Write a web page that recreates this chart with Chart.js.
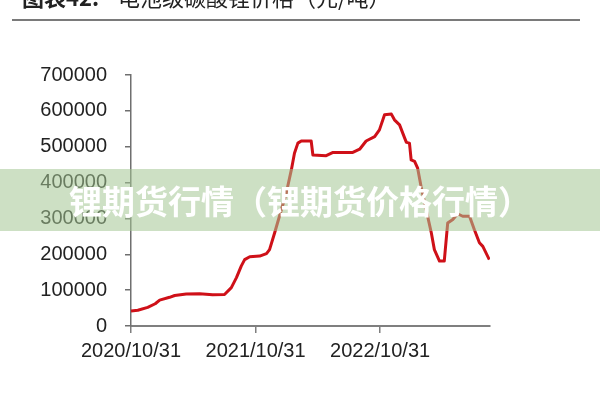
<!DOCTYPE html>
<html lang="zh-CN">

<head>
    <meta charset="UTF-8">
    <title>电池级碳酸锂价格</title>
    <script src="https://cdn.jsdelivr.net/npm/chart.js"></script>
    <style>
        html, body { margin: 0; padding: 0; background: #fff; }
        #grafico { display: block; }
    </style>
</head>

<body>
    <canvas id="grafico" width="600" height="400"></canvas>
</body>

<script>
    const datas = [
        '2020/10/31', '2020/11/20', '2020/12/19', '2021/01/10', '2021/01/23', '2021/02/21',
        '2021/03/08', '2021/04/11', '2021/05/20', '2021/06/27', '2021/08/01', '2021/08/21',
        '2021/09/05', '2021/09/19', '2021/09/29', '2021/10/14', '2021/11/12', '2021/12/02',
        '2021/12/11', '2021/12/26', '2022/01/09', '2022/01/29', '2022/02/13', '2022/02/22',
        '2022/03/04', '2022/03/14', '2022/04/12', '2022/04/17', '2022/05/26', '2022/06/15',
        '2022/08/12', '2022/09/01', '2022/09/20', '2022/10/15', '2022/10/29', '2022/11/13',
        '2022/12/03', '2022/12/12', '2022/12/27', '2023/01/11', '2023/01/16', '2023/01/25',
        '2023/01/30', '2023/02/09', '2023/02/18', '2023/02/28', '2023/03/15', '2023/03/30',
        '2023/04/08', '2023/04/23', '2023/05/07', '2023/05/17', '2023/06/01', '2023/06/15',
        '2023/06/30', '2023/07/20', '2023/08/03', '2023/08/18', '2023/08/28', '2023/09/16'
    ];
    const precos = [
        42000, 44000, 52000, 62000, 72000, 80000,
        85000, 89000, 90000, 87000, 88000, 107000,
        135000, 167000, 185000, 193000, 195000, 202000,
        213000, 260000, 306000, 371000, 436000, 482000,
        510000, 516000, 516000, 477000, 475000, 484000,
        484000, 493000, 516000, 528000, 547000, 589000,
        591000, 575000, 561000, 524000, 512000, 510000,
        463000, 459000, 440000, 389000, 324000, 260000,
        213000, 181000, 181000, 287000, 297000, 313000,
        306000, 306000, 269000, 232000, 222000, 185000
    ];
    const rotulosX = ['2020/10/31', '2021/10/31', '2022/10/31'];
    const ultimoDia = '2023/09/18';

    const titulo = '电池级碳酸锂价格（元/吨）';
    const tituloNumero = '图表42:';
    const marcaDagua = '锂期货行情（锂期货价格行情）';

    function dia(txt) {
        const p = txt.split('/');
        const inicio = Date.UTC(2020, 9, 31);
        return Math.round((Date.UTC(+p[0], +p[1] - 1, +p[2]) - inicio) / 86400000);
    }

    let pontos = [];
    for (let i = 0; i < datas.length; i++) {
        pontos.push({ x: dia(datas[i]), y: precos[i] });
    }
    const diasTicks = rotulosX.map(dia);

    const extras = {
        id: 'extras',
        afterDraw(chart) {
            const ctx = chart.ctx;
            ctx.save();

            // titulo cortado no topo
            ctx.fillStyle = '#222';
            ctx.textBaseline = 'alphabetic';
            ctx.textAlign = 'left';
            ctx.font = 'bold 22px "Noto Sans CJK SC"';
            ctx.fillText(tituloNumero, 22, 6);
            ctx.font = '22px "Noto Sans CJK SC"';
            ctx.fillText(titulo, 118, 6);

            ctx.strokeStyle = '#7a7a7a';
            ctx.lineWidth = 2;
            ctx.beginPath();
            ctx.moveTo(12, 20);
            ctx.lineTo(580, 20);
            ctx.stroke();

            // faixa da marca d'agua
            ctx.fillStyle = 'rgba(164, 198, 147, 0.55)';
            ctx.fillRect(0, 169, 600, 62);
            ctx.fillStyle = '#fff';
            ctx.textAlign = 'center';
            ctx.textBaseline = 'middle';
            ctx.font = 'bold 33px "Noto Sans CJK SC"';
            ctx.fillText(marcaDagua, 300, 201);

            ctx.restore();
        }
    };

    const config = {
        type: 'line',
        data: {
            datasets: [{
                label: '电池级碳酸锂',
                data: pontos,
                borderColor: '#cf1018',
                borderWidth: 3,
                pointRadius: 0,
                tension: 0,
                borderJoinStyle: 'round',
                fill: false
            }]
        },
        options: {
            responsive: false,
            animation: false,
            layout: { padding: { left: 0, top: 75, right: 110, bottom: 0 } },
            plugins: {
                legend: { display: false },
                tooltip: { enabled: false }
            },
            scales: {
                x: {
                    type: 'linear',
                    min: 0,
                    max: dia(ultimoDia),
                    afterBuildTicks: function (scale) {
                        scale.ticks = diasTicks.map(function (v) { return { value: v }; });
                    },
                    afterFit: function (scale) { scale.height = 74; },
                    grid: {
                        drawOnChartArea: false,
                        drawTicks: true,
                        tickLength: 7,
                        color: '#7f7f7f',
                        lineWidth: 1.5
                    },
                    border: { display: true, color: '#7f7f7f', width: 2 },
                    ticks: {
                        autoSkip: false,
                        maxRotation: 0,
                        padding: 6,
                        color: '#222',
                        font: { family: '"Liberation Sans", Arial', size: 20 },
                        callback: function (v) {
                            const i = diasTicks.indexOf(v);
                            return i >= 0 ? rotulosX[i] : '';
                        }
                    }
                },
                y: {
                    min: 0,
                    max: 700000,
                    afterFit: function (scale) { scale.width = 131; },
                    grid: {
                        drawOnChartArea: false,
                        drawTicks: true,
                        tickLength: 6,
                        color: '#6f6f6f',
                        lineWidth: 1.5
                    },
                    border: { display: true, color: '#6f6f6f', width: 1.5 },
                    ticks: {
                        stepSize: 100000,
                        padding: 18,
                        color: '#222',
                        font: { family: '"Liberation Sans", Arial', size: 20 },
                        callback: function (v) { return String(v); }
                    }
                }
            }
        },
        plugins: [extras]
    };

    new Chart(document.getElementById('grafico'), config);
</script>

</html>
